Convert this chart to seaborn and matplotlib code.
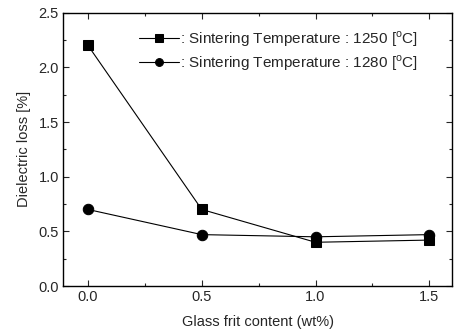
import matplotlib
matplotlib.use("Agg")
import matplotlib.pyplot as plt
import seaborn as sns
import pandas as pd
from matplotlib.ticker import MultipleLocator

glass_frit = [0.0, 0.5, 1.0, 1.5]
loss_1250 = [2.20, 0.70, 0.40, 0.42]
loss_1280 = [0.70, 0.47, 0.45, 0.47]
labels = [": Sintering Temperature : 1250 [$^{\\mathrm{o}}$C]",
          ": Sintering Temperature : 1280 [$^{\\mathrm{o}}$C]"]

sns.set_style("ticks")
plt.rcParams['font.family'] = ['Liberation Sans', 'DejaVu Sans']
plt.rcParams['mathtext.fontset'] = 'custom'
plt.rcParams['mathtext.rm'] = 'Liberation Sans'

df = pd.DataFrame({
    "x": glass_frit * 2,
    "y": loss_1250 + loss_1280,
    "series": [labels[0]] * 4 + [labels[1]] * 4,
})

fig = plt.figure(figsize=(4.54, 3.36), dpi=100)
ax = fig.add_axes([63/454, 1 - 286/336, (452-63)/454, (286-12.7)/336])

sns.lineplot(data=df, x="x", y="y", hue="series", style="series",
             markers=["s", "o"], dashes=False, palette=["black", "black"],
             markersize=7.5, linewidth=0.8, markeredgecolor="black", ax=ax)

ax.set_xlim(-0.11, 1.6)
ax.set_ylim(0, 2.5)
ax.xaxis.set_major_locator(MultipleLocator(0.5))
ax.xaxis.set_minor_locator(MultipleLocator(0.25))
ax.yaxis.set_major_locator(MultipleLocator(0.5))
ax.yaxis.set_minor_locator(MultipleLocator(0.25))
ax.tick_params(which="both", direction="in", top=True, right=True, width=0.8)
ax.tick_params(which="major", length=4, labelsize=10.5, pad=3)
ax.tick_params(which="minor", length=2)
for s in ax.spines.values():
    s.set_linewidth(1.0)
    s.set_color("black")

ax.set_xlabel("Glass frit content (wt%)", fontsize=10.5, labelpad=8)
ax.set_ylabel("Dielectric loss [%]", fontsize=10.5, labelpad=5)

leg = ax.legend(loc="upper left", bbox_to_anchor=(0.195, 0.94),
                frameon=False, fontsize=11, markerscale=0.75,
                handlelength=2.6, handletextpad=0.1, borderaxespad=0.0,
                borderpad=0.0, labelspacing=0.3, title=None)

fig.savefig("out.png", dpi=100)
